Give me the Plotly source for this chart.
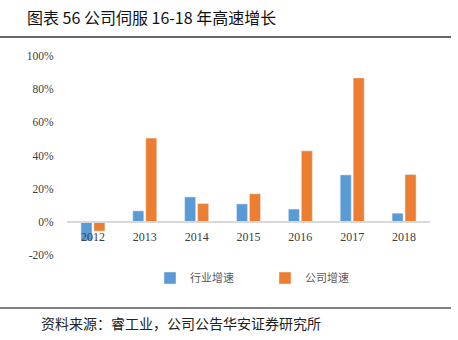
import plotly.graph_objects as go

years = ["2012", "2013", "2014", "2015", "2016", "2017", "2018"]
industry = [-11.4, 6.6, 15.0, 10.8, 7.7, 28.3, 5.2]
company = [-5.6, 50.5, 11.0, 16.9, 42.8, 86.8, 28.5]
series_names = ["行业增速", "公司增速"]
y_ticks = [-20, 0, 20, 40, 60, 80, 100]
y_ticklabels = ["-20%", "0%", "20%", "40%", "60%", "80%", "100%"]

W, H = 458, 340
ML, MR, MT, MB = 67, 28, 56, 85
PW, PH = W - ML - MR, H - MT - MB


def px_x(p):
    return (p - ML) / PW


def px_y(p):
    return (H - MB - p) / PH


fig = go.Figure()
fig.add_trace(go.Bar(x=years, y=industry, name=series_names[0], marker_color="#5B9BD5"))
fig.add_trace(go.Bar(x=years, y=company, name=series_names[1], marker_color="#ED7D31"))

fig.update_layout(
    width=W, height=H,
    margin=dict(l=ML, r=MR, t=MT, b=MB),
    paper_bgcolor="white", plot_bgcolor="white",
    barmode="group", bargap=0.5, bargroupgap=0.15,
    font=dict(family="Liberation Serif", size=11, color="#595959"),
    showlegend=True,
    legend=dict(orientation="h", x=px_x(150), xanchor="left", y=px_y(278), yanchor="middle",
                font=dict(family="Noto Sans CJK SC", size=11, color="#595959"),
                itemwidth=30, entrywidth=70, entrywidthmode="pixels", tracegroupgap=0),
    xaxis=dict(type="category", anchor="free", position=20 / 120, showline=True,
               linecolor="#D9D9D9", linewidth=1.5, ticks="outside", ticklen=4,
               tickcolor="rgba(0,0,0,0)", showgrid=False, zeroline=False,
               tickfont=dict(family="Liberation Serif", size=12, color="#404040")),
    yaxis=dict(range=[-20, 100], tickvals=y_ticks, ticktext=y_ticklabels, showgrid=False,
               zeroline=False, showline=False, ticks="outside", ticklen=10,
               tickcolor="rgba(0,0,0,0)",
               tickfont=dict(family="Liberation Serif", size=11.5, color="#404040")),
    annotations=[
        dict(text="图表 56 公司伺服 16-18 年高速增长", xref="paper", yref="paper",
             x=px_x(25), y=px_y(17), xanchor="left", yanchor="middle", showarrow=False,
             font=dict(family="Noto Sans CJK SC", size=16, color="#111111")),
        dict(text="资料来源：睿工业，公司公告华安证券研究所", xref="paper", yref="paper",
             x=px_x(39), y=px_y(323), xanchor="left", yanchor="middle", showarrow=False,
             font=dict(family="Noto Sans CJK SC", size=14, color="#222222")),
    ],
    shapes=[
        dict(type="line", xref="paper", yref="paper", x0=px_x(0), x1=px_x(451),
             y0=px_y(37), y1=px_y(37), line=dict(color="#333333", width=1.5)),
        dict(type="line", xref="paper", yref="paper", x0=px_x(0), x1=px_x(451),
             y0=px_y(308), y1=px_y(308), line=dict(color="#808080", width=2)),
    ],
)

fig.write_html("out.html")
